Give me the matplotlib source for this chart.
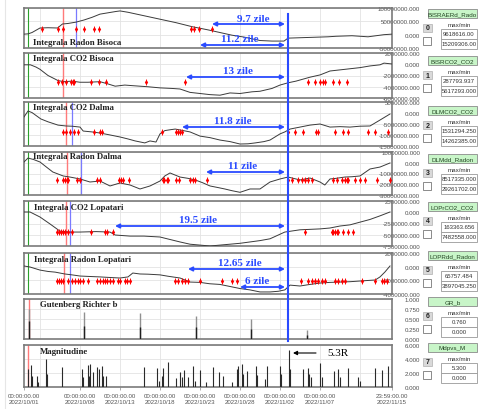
import numpy as np
import matplotlib
matplotlib.use('Agg')
import matplotlib.pyplot as plt
import matplotlib.dates as mdates
from matplotlib.patches import Rectangle
from matplotlib.lines import Line2D
import matplotlib.transforms as mtransforms

# ---------------- data (days since 2022-10-01 00:00, values in millions) ----------------
days0 = [0, 0.5, 1, 2, 3, 4.2, 4.8, 5.5, 6.5, 7.5, 8.5, 9.5, 10.5, 11.5, 12, 13, 15, 17, 19, 21, 23,
         24.5, 26, 27.5, 29.5, 31, 32.5, 33, 34, 35, 36, 37, 38, 39, 40, 41, 42, 43, 44, 45, 46]
vals0 = [2, 3, 8, 25, 26, 25, 40, 42, 47, 55, 65, 77, 82, 87, 89, 84, 71, 58, 45, 30, 18,
         8, -2, -9, -22, -24, -24, -13, -12, -11, -10, -9, -8, -6, -5, -4, -6, -8, -4, 0, 2]
mark0_days = [2.25, 4.25, 4.9, 6.5, 7.5, 8.75, 9.4, 20.9, 21.25, 21.9, 23.5]
mark0_level = 23

days1 = [0, 0.8, 1.5, 2, 3, 4.25, 5, 6, 7, 8, 9.5, 10.5, 11.4, 12.6, 13.5, 14.5, 15.5, 17, 18.5, 19.5,
         20.75, 22, 23.25, 24.5, 25.75, 27, 28.5, 29.5, 31, 32, 33, 34, 35.75, 37, 38.25, 39.5, 40.75,
         42, 43.25, 44.5, 45, 46]
vals1 = [-0.1, -0.1, -0.5, -0.9, -2.0, -2.9, -3.1, -3.0, -3.2, -3.2, -3.1, -3.5, -3.9, -3.7, -3.8, -3.9,
         -4.0, -4.2, -4.3, -4.4, -5.0, -5.2, -5.4, -5.5, -5.1, -5.2, -4.9, -4.8, -4.3, -3.7, -3.3, -3.0,
         -2.3, -1.9, -1.2, -1.0, -0.8, -0.6, -0.3, -0.1, 0.2, 0.05]
mark1_days = [4.25, 4.75, 5.25, 5.9, 6.1, 6.25, 8.4, 9.4, 10.25, 15.25, 20.1, 35.5, 36.4, 37, 37.4,
              37.6, 38.6, 39.4, 40.4]
mark1_level = -3.16

days2 = [0, 0.5, 1, 2.1, 3, 4.25, 5.25, 6, 7, 7.4, 8.5, 9.5, 10.5, 12, 13, 13.9, 15.1, 15.75, 16.5, 17,
         17.6, 18.3, 18.9, 19.5, 20.75, 22, 23.25, 24.5, 25.75, 27, 28, 28.9, 30, 30.75, 32, 32.6, 33.25,
         34.5, 35.75, 37, 38.25, 39.5, 40.75, 42, 43.25, 44.5, 45.75]
vals2 = [-1.8, 0.9, 0.2, -2.7, -4.0, -5.5, -5.9, -6.0, -6.4, -8.2, -8.6, -9.1, -9.8, -10.9, -11.8, -12.7,
         -13.6, -12.7, -13.2, -9.5, -8.0, -7.6, -7.3, -7.7, -8.6, -10.5, -11.2, -12.3, -13.0, -14.1, -14.0,
         -13.6, -13.0, -12.3, -9.5, -8.6, -7.3, -6.4, -5.5, -5.0, -6.4, -6.2, -6.4, -6.0, -5.9, -3.2, -0.45]
mark2_days = [4.9, 5.25, 5.75, 6.25, 6.75, 8.75, 9.5, 9.75, 17.25, 19, 19.25, 19.5, 19.75, 33, 33.9,
              34.9, 36.5, 36.75, 38.9, 39.9, 40.5, 43, 43.9, 45.5]
mark2_level = -8.6

days3 = [0, 0.5, 1.2, 2, 2.8, 3.6, 4.9, 5.75, 7, 8.25, 9.5, 10.75, 12, 13.25, 14.5, 15.75, 17, 17.6,
         18.25, 19.5, 20.5, 21.4, 22.3, 23.25, 24.2, 25.1, 26, 27, 28.25, 29.5, 30.75, 32, 33, 34.5,
         35.75, 37, 37.6, 38.25, 39, 40.1, 41, 42, 43.25, 44.5, 45.75]
vals3 = [0.7, 4.4, 3.0, 0.7, -4.0, -8.6, -12.3, -13.3, -15.1, -17.9, -17.0, -21.6, -18.8, -20.7, -24.4,
         -21.6, -17.0, -12.3, -9.5, -13.3, -14.5, -16.0, -18.5, -21.6, -23.0, -24.4, -26.0, -27.5, -24.4,
         -24.4, -17.9, -15.1, -13.3, -16.0, -14.2, -17.9, -20.7, -15.1, -14.5, -13.3, -13.0, -12.3, -5.8,
         -4.0, -0.2]
mark3_days = [4.1, 4.9, 5.1, 5.4, 5.5, 6.6, 7.0, 9.1, 9.5, 11.9, 12.1, 12.4, 13.1, 17.4, 17.5, 17.9,
              18.0, 19.0, 19.4, 20.75, 21.1, 21.4, 22.9, 33.0, 33.5, 34.25, 34.75, 35.1, 35.5, 36.0,
              38.6, 39.1, 39.75, 40.1, 40.4, 40.5, 41.4, 42.0, 42.6, 44.1, 45.75]
mark3_level = -16

days4 = [0, 0.75, 2, 3.25, 4.5, 5.75, 7, 9, 10.75, 11.4, 13.25, 15, 17, 17.9, 19.5, 20.75, 22, 23.25,
         24.5, 25.75, 27, 28.25, 29.5, 30.75, 32.6, 34.5, 35.75, 37, 38.25, 39.5, 40.75, 42, 43.25, 44.5,
         45.75]
vals4 = [0.06, 0.06, -1.06, -2.6, -4.2, -4.4, -4.4, -4.3, -4.4, -5.06, -5.3, -5.3, -5.5, -5.9, -6.6,
         -7.1, -7.3, -7.5, -7.3, -7.1, -6.9, -6.6, -6.3, -5.9, -4.4, -3.9, -3.8, -3.7, -3.5, -3.06, -2.8,
         -2.2, -1.6, -0.8, 0.06]
mark4_days = [4.1, 4.4, 4.6, 4.9, 5.1, 5.5, 6.0, 8.4, 10.1, 10.4, 11.1, 35.1, 38.5, 38.6, 38.9, 39.1,
              39.25, 39.9, 40.5, 41.1]
mark4_level = -4.4

days5 = [0, 0.75, 2, 3, 3.9, 5.1, 6, 7, 8.5, 9.5, 11, 12, 13, 13.6, 14.5, 15.5, 17, 18, 19.5, 20.75,
         22, 23.2, 24.5, 25.75, 27, 28.25, 29.5, 30.75, 31.8, 32.6, 33.25, 34.5, 35.75, 37, 38.25, 39.5,
         40.75, 42, 43.25, 43.9, 44.5, 45.1, 45.75]
vals5 = [0.1, -0.05, -0.5, -0.7, -0.8, -1.07, -1.2, -1.37, -1.45, -1.5, -1.6, -1.66, -1.5, -0.93, -1.07,
         -1.1, -1.2, -1.4, -1.66, -2.25, -2.3, -2.5, -2.6, -2.9, -3.2, -3.4, -3.7, -3.7, -3.6, -3.4, -2.7,
         -2.83, -2.6, -2.4, -2.3, -2.25, -2.2, -2.1, -2.0, -1.95, -1.5, -0.8, 0.1]
mark5_days = [4.1, 4.4, 4.6, 4.9, 5.5, 6.0, 6.4, 6.75, 7.0, 7.4, 8.0, 9.1, 9.5, 9.9, 10.1, 10.4, 10.75,
              11.1, 11.75, 12.0, 12.6, 12.9, 13.25, 18.9, 19.25, 19.75, 20.1, 20.5, 22.0, 24.75, 26.0,
              26.6, 34.6, 35.5, 36.0, 36.4, 36.75, 37.25, 37.6, 38.9, 39.25, 39.75, 40.1, 42.25, 43.9,
              44.75, 45.0, 45.4]
mark5_level = -2.1

gr_days = [0.6, 7.5, 14.5, 21.5, 28.4, 35.4]
gr_b = [0.76, 0.68, 0.65, 0.57, 0.50, 0.22]
gr_low = [0.45, 0.33, 0.30, 0.30, 0.25, 0.10]

mag_days = [0.5, 0.9, 1.0, 1.6, 1.75, 2.75, 2.9, 4.75, 7.25, 7.4, 8.0, 8.1, 8.25, 8.6, 9.1, 9.4, 9.75,
            9.9, 10.25, 15.0, 16.6, 16.9, 17.25, 17.4, 18.0, 19.0, 19.5, 19.75, 20.0, 20.5, 21.1, 21.4,
            22.0, 22.75, 23.6, 24.4, 24.9, 26.0, 26.6, 26.75, 27.25, 27.4, 27.9, 29.0, 29.1, 30.1, 30.4,
            32.0, 32.1, 33.1, 33.25, 34.9, 35.5, 35.6, 35.9, 37.0, 37.25, 38.75, 39.25, 39.5, 40.5,
            41.75, 42.0, 43.9, 44.75, 45.5]
mags = [2.6, 3.1, 1.6, 1.6, 0.7, 4.0, 1.9, 2.9, 2.6, 1.4, 3.1, 1.6, 3.3, 2.1, 2.9, 2.6, 3.0,
        1.6, 1.6, 2.9, 2.7, 0.9, 1.6, 2.7, 3.6, 1.3, 2.1, 1.4, 2.4, 1.4, 3.0, 0.9,
        2.4, 0.7, 2.9, 2.1, 1.6, 0.7, 2.6, 3.0, 3.3, 1.9, 2.3, 3.0, 1.7, 1.1, 3.0,
        3.0, 1.9, 5.3, 2.6, 2.6, 2.7, 1.9, 1.4, 3.4, 1.4, 2.3, 2.6, 1.4, 2.7,
        1.4, 0.9, 2.7, 2.4, 3.0]

panel_titles = ["Integrala Radon Bisoca", "Integrala CO2 Bisoca", "Integrala CO2 Dalma",
                "Integrala Radon Dalma", "Integrala CO2 Lopatari", "Integrala Radon Lopatari",
                "Gutenberg Richter b", "Magnitudine"]
channel_names = ["BISRAERd_Rado", "BISRCO2_CO2", "DLMCO2_CO2", "DLMdd_Radon",
                 "LOPrCO2_CO2", "LOPRdd_Radon", "GR_b", "Mdpvs_M"]
max_texts = ["9618616.00", "287793.937", "1531294.250", "8517335.000",
             "163363.656", "65757.484", "0.760", "5.300"]
min_texts = ["15209306.00", "5617293.000", "14262385.00", "29261702.00",
             "7482558.000", "3897045.250", "0.000", "0.000"]

arrow_labels = ["9.7 zile", "11.2 zile", "13 zile", "11.8 zile", "11 zile", "19.5 zile",
                "12.65 zile", "6 zile"]

green_day = 0.5
red_days = [4.84, 4.84, 5.3, 5.4, 5.3, 5.0, 0.6, 0.5]
blue_days = [6.5, None, 5.96, 7.1, 5.75, 5.7, None, None]
event_day = 33.0

ylims = [(-50e6, 100e6), (-6e6, 2e6), (-15e6, 5e6), (-30e6, 10e6), (-7.5e6, 2.5e6),
         (-4e6, 2e6), (0, 1), (0, 6)]
yticks = [[100e6, 50e6, 0, -50e6], [2e6, 0, -2e6, -4e6, -6e6], [5e6, 0, -5e6, -10e6, -15e6],
          [10e6, 0, -10e6, -20e6, -30e6], [2.5e6, 0, -2.5e6, -5e6, -7.5e6], [2e6, 0, -2e6, -4e6],
          [1, 0.75, 0.5, 0.25, 0], [6, 4, 2, 0]]

xlabel_days = [0, 7, 12, 17, 22, 27, 32, 37]
xlabel_text = ["00:00:00.00\n2022/10/01", "00:00:00.00\n2022/10/08", "00:00:00.00\n2022/10/13",
               "00:00:00.00\n2022/10/18", "00:00:00.00\n2022/10/23", "00:00:00.00\n2022/10/28",
               "00:00:00.00\n2022/11/02", "00:00:00.00\n2022/11/07"]
end_text = "23:59:00.00\n2022/11/15"
grid_days = [2, 7, 12, 17, 22, 27, 32, 37, 42]

# ---------------- helpers ----------------
BASE = np.datetime64('2022-10-01T00:00')
END = np.datetime64('2022-11-15T23:59')


def to_dt(days):
    m = np.round(np.asarray(days, dtype=float) * 1440).astype(np.int64)
    return BASE + m.astype('timedelta64[m]')


W, H = 478, 410
fig = plt.figure(figsize=(W / 100, H / 100), dpi=100)
fig.patch.set_facecolor('white')

SERIF = 'Liberation Serif'
SANS = 'Liberation Sans'
BLUE = '#2a4bff'
panel_px = [(9, 49), (54, 99), (103, 147), (153, 196), (202, 247), (254, 295), (300, 340), (346, 388)]
X0, X1 = 24, 392

curves = [(days0, vals0), (days1, vals1), (days2, vals2), (days3, vals3), (days4, vals4), (days5, vals5)]
marks = [(mark0_days, mark0_level), (mark1_days, mark1_level), (mark2_days, mark2_level),
         (mark3_days, mark3_level), (mark4_days, mark4_level), (mark5_days, mark5_level)]

axes = []
for i, (top, bot) in enumerate(panel_px):
    ax = fig.add_axes([X0 / W, 1 - bot / H, (X1 - X0) / W, (bot - top) / H])
    axes.append(ax)
    ax.set_xlim(to_dt([0])[0], END)
    ax.set_ylim(*ylims[i])
    for s in ax.spines.values():
        s.set_color('#7a7a7a')
        s.set_linewidth(1.2)
    for gd in grid_days:
        ax.axvline(to_dt([gd])[0], color='#e3e3e3', lw=0.6, zorder=0)
    for yt in yticks[i]:
        ax.axhline(yt, color='#e3e3e3', lw=0.6, zorder=0)
    ax.set_yticks(yticks[i])
    ax.set_yticklabels([f"{v:.3f}" for v in yticks[i]])
    ax.yaxis.tick_right()
    ax.tick_params(axis='y', length=0, pad=20.2, labelsize=4.4, labelcolor='#505050',
                   labelfontfamily=SANS)
    for lab in ax.get_yticklabels():
        lab.set_horizontalalignment('right')
    ax.set_xticks(list(to_dt(xlabel_days)) + [END])
    if i < 7:
        ax.tick_params(axis='x', length=0, labelbottom=False)
    else:
        ax.set_xticklabels(xlabel_text + [end_text])
        ax.tick_params(axis='x', length=2, width=0.5, color='#888888', pad=2.5, labelsize=4.4,
                       labelcolor='#555555', labelfontfamily=SANS)
        for lab in ax.get_xticklabels():
            lab.set_linespacing(1.3)
    if i < 6:
        ax.axvline(to_dt([green_day])[0], color='#2ca02c', lw=0.8, zorder=1)
    ax.axvline(to_dt([red_days[i]])[0], color='#ff7a7a', lw=1.0, zorder=1)
    if blue_days[i] is not None:
        ax.axvline(to_dt([blue_days[i]])[0], color='#7a7aff', lw=0.9, zorder=1)

    if i < 6:
        d, v = curves[i]
        ax.plot(to_dt(d), np.asarray(v) * 1e6, color='#3a3a3a', lw=0.7, zorder=3)
        md, lvl = marks[i]
        mx = to_dt(md)
        my = np.full(len(md), lvl * 1e6)
        ax.plot(mx, my, ls='none', marker='|', ms=4.5, mew=0.6, color='red', zorder=4)
        ax.plot(mx, my, ls='none', marker='d', ms=2.8, mew=0, color='red', zorder=4)
    elif i == 6:
        ax.vlines(to_dt(gr_days), 0, gr_b, color='#909090', lw=1.0, zorder=3)
        ax.vlines(to_dt(gr_days), 0, gr_low, color='#202020', lw=1.0, zorder=3)
    else:
        ax.vlines(to_dt(mag_days), 0, mags, color='#2a2a2a', lw=0.8, zorder=3)

# ---------------- overlay (annotations & side panel) ----------------
ov = fig.add_axes([0, 0, 1, 1])
ov.set_xlim(0, W)
ov.set_ylim(H, 0)
ov.axis('off')

ov.plot([5, 5], [0, H], color='#e6e6e6', lw=0.8)

# big event line through the panels (x in data units of the panels)
blend = mtransforms.blended_transform_factory(axes[0].transData, fig.transFigure)
ex = mdates.date2num(to_dt([event_day])[0])
fig.add_artist(Line2D([ex, ex], [1 - 15 / H, 1 - 342 / H], transform=blend,
                      color=BLUE, lw=1.5, zorder=10))

title_pos = [(33, 43), (33, 59), (33, 108), (33, 157), (34, 208), (34, 260), (40, 305), (40, 352)]
for (tx, ty), t in zip(title_pos, panel_titles):
    ov.text(tx, ty, t, fontsize=6.3, family=SERIF, fontweight='bold', color='#222222',
            ha='left', va='center')

arrow_geom = [(212, 25, 253), (200, 46, 240), (186, 78, 238), (182, 128, 233), (206, 173, 243),
              (115, 227, 198), (188, 270, 240), (240, 288, 257)]
for (xl, ya, xc), lab in zip(arrow_geom, arrow_labels):
    ov.annotate('', xy=(285, ya), xytext=(xl, ya),
                arrowprops=dict(arrowstyle='<|-|>', color=BLUE, lw=1.3, mutation_scale=6,
                                shrinkA=0, shrinkB=0))
    ov.text(xc, ya - 6, lab, fontsize=8, family=SERIF, fontweight='bold', color=BLUE,
            ha='center', va='center')

ov.annotate('', xy=(293, 354), xytext=(316, 354),
            arrowprops=dict(arrowstyle='-|>', color='black', lw=0.8, mutation_scale=6,
                            shrinkA=0, shrinkB=0))
ov.text(327, 354, "5.3R", fontsize=8, family=SERIF, color='black', ha='left', va='center')

green_tops = [10, 57, 107, 155, 203, 252, 298, 344]
for i, G in enumerate(green_tops):
    r = Rectangle((428, G), 49, 9, facecolor='#c8f5c8', edgecolor='#8a8a8a', lw=0.6)
    ov.add_patch(r)
    t = ov.text(452.5, G + 4.7, channel_names[i], fontsize=4.5, family=SANS, color='#224422',
                ha='center', va='center')
    t.set_clip_path(r)
    ov.add_patch(Rectangle((423, G + 15), 9, 8, facecolor='#d9d9d9', edgecolor='#b0b0b0', lw=0.5))
    ov.text(427.5, G + 19, str(i), fontsize=5, family=SANS, fontweight='bold', color='#222222',
            ha='center', va='center')
    ov.add_patch(Rectangle((423.5, G + 28), 8, 7.5, facecolor='white', edgecolor='#777777', lw=0.6))
    ov.text(459, G + 15.5, "max/min", fontsize=4.5, family=SANS, color='#333333',
            ha='center', va='center')
    for k, txt in enumerate([max_texts[i], min_texts[i]]):
        yy = G + 19.5 + 10 * k
        rb = Rectangle((441, yy), 36, 10, facecolor='white', edgecolor='#999999', lw=0.6)
        ov.add_patch(rb)
        tt = ov.text(459, yy + 5, txt, fontsize=4.3, family=SANS, color='#333333',
                     ha='center', va='center')
        tt.set_clip_path(rb)

fig.savefig('out.png', dpi=100, facecolor='white')
